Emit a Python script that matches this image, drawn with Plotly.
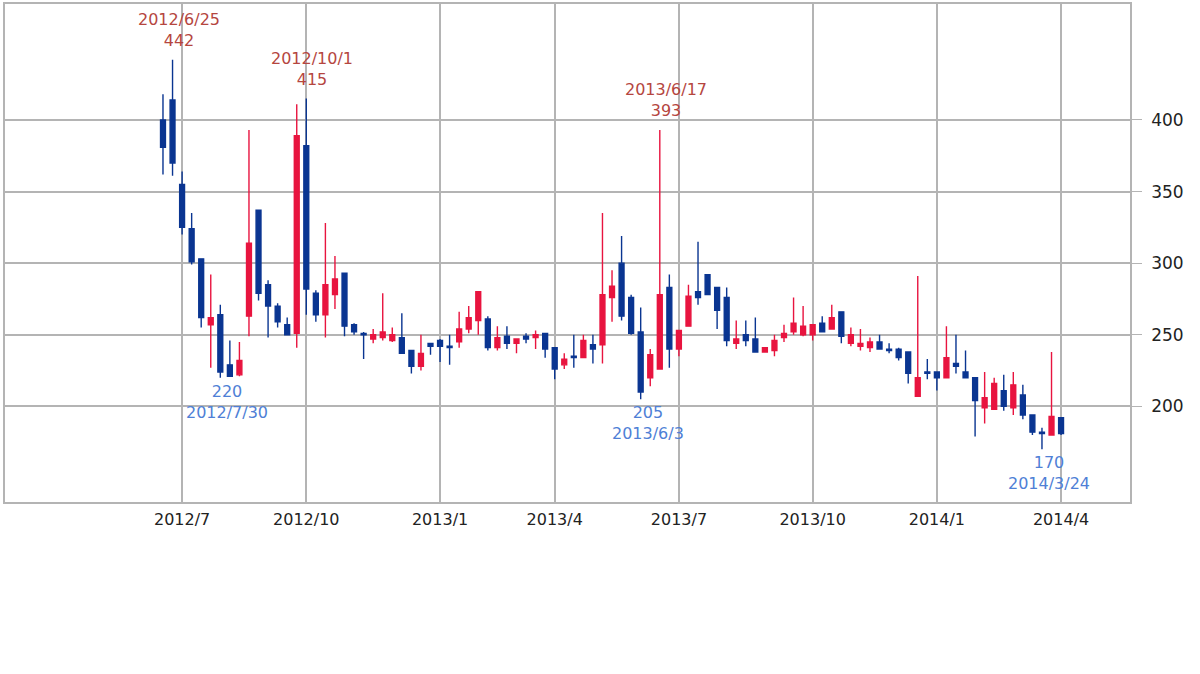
import pandas as pd
import plotly.graph_objects as go

# Weekly candles (week starting Monday)
weeks = pd.date_range("2012-06-18", periods=95, freq="7D")

opens = [400, 414, 355, 324, 303, 257, 264, 229, 222, 263,
         337, 285, 270, 257, 251, 382, 279, 264, 278, 293,
         257, 251, 247, 248, 246, 248, 239, 228, 244, 246,
         242, 245, 254, 260, 261, 241, 249, 244, 249, 248,
         251, 241, 229, 235, 234, 243, 243, 276, 300, 276,
         252, 220, 226, 283, 240, 256, 280, 292, 283, 276,
         244, 250, 247, 238, 239, 248, 252, 250, 250, 258,
         254, 266, 244, 242, 241, 245, 240, 240, 238, 207,
         224, 224, 220, 230, 224, 220, 199, 198, 211, 199,
         208, 194, 182, 180, 192]
highs = [418, 442, 364, 335, 303, 292, 271, 246, 245, 393,
         337, 288, 272, 262, 411, 415, 281, 328, 305, 293,
         258, 252, 254, 279, 255, 265, 239, 250, 244, 247,
         250, 266, 270, 280, 263, 256, 256, 247, 251, 253,
         251, 241, 237, 250, 250, 250, 335, 295, 319, 278,
         269, 240, 393, 292, 253, 285, 315, 292, 283, 283,
         260, 260, 262, 241, 250, 257, 276, 270, 257, 263,
         271, 266, 255, 254, 248, 250, 244, 241, 238, 291,
         233, 224, 256, 250, 239, 220, 224, 220, 222, 224,
         215, 194, 185, 238, 192]
lows = [362, 361, 320, 299, 255, 227, 220, 221, 221, 249,
        274, 248, 255, 250, 241, 264, 259, 248, 268, 249,
        250, 233, 244, 246, 245, 237, 223, 225, 236, 231,
        229, 241, 251, 250, 239, 239, 240, 237, 244, 240,
        234, 219, 226, 227, 234, 230, 230, 259, 260, 250,
        205, 214, 226, 227, 235, 256, 271, 278, 254, 242,
        240, 242, 238, 238, 235, 245, 250, 249, 246, 252,
        254, 244, 242, 239, 238, 240, 237, 232, 216, 207,
        219, 211, 220, 223, 220, 179, 188, 198, 197, 194,
        191, 180, 170, 180, 180]
closes = [381, 370, 325, 301, 262, 262, 224, 221, 232, 314,
          279, 270, 259, 250, 389, 282, 264, 285, 289, 256,
          252, 250, 250, 252, 250, 237, 228, 237, 242, 242,
          241, 254, 262, 280, 241, 248, 244, 247, 247, 250,
          240, 226, 233, 234, 246, 240, 278, 284, 263, 251,
          210, 236, 278, 240, 253, 277, 276, 278, 267, 246,
          247, 246, 238, 241, 246, 251, 258, 256, 257, 252,
          262, 249, 250, 244, 245, 240, 239, 234, 223, 220,
          223, 220, 234, 228, 220, 204, 206, 216, 200, 215,
          194, 182, 181, 193, 181]

tick_dates = ["2012-07-02", "2012-10-01", "2013-01-07", "2013-04-01",
              "2013-07-01", "2013-10-07", "2014-01-06", "2014-04-07"]
tick_labels = ["2012/7", "2012/10", "2013/1", "2013/4",
               "2013/7", "2013/10", "2014/1", "2014/4"]
y_ticks = [200, 250, 300, 350, 400]

# highlighted extremes: (week index, label date)
high_marks = [(1, "2012/6/25"), (15, "2012/10/1"), (52, "2013/6/17")]
low_marks = [(6, "2012/7/30"), (50, "2013/6/3"), (92, "2014/3/24")]

RED = "#e8143f"
BLUE = "#0a3591"
GRID = "#b4b4b4"

fig = go.Figure()
fig.add_trace(go.Candlestick(
    x=weeks, open=opens, high=highs, low=lows, close=closes,
    increasing=dict(line=dict(color=RED, width=1.4), fillcolor=RED),
    decreasing=dict(line=dict(color=BLUE, width=1.4), fillcolor=BLUE),
    whiskerwidth=0, showlegend=False, hoverinfo="skip",
))

for i, lbl in high_marks:
    fig.add_annotation(x=weeks[i], y=highs[i], text=f"{lbl}<br>{highs[i]}",
                       showarrow=False, yanchor="bottom", yshift=8, xshift=6,
                       font=dict(family="DejaVu Sans", size=16, color="#b5463f"))
for i, lbl in low_marks:
    fig.add_annotation(x=weeks[i], y=lows[i], text=f"{lows[i]}<br>{lbl}",
                       showarrow=False, yanchor="top", yshift=-2, xshift=7,
                       font=dict(family="DejaVu Sans", size=16, color="#4f7fd6"))

fig.update_layout(
    width=1200, height=674,
    margin=dict(l=5, r=70, t=2, b=172),
    paper_bgcolor="white", plot_bgcolor="white",
    boxgap=0.27,
    font=dict(family="DejaVu Sans", size=15, color="#222222"),
    xaxis=dict(
        type="date",
        range=["2012-02-23 06:00", "2014-05-27 12:00"],
        tickvals=tick_dates, ticktext=tick_labels,
        showgrid=True, gridcolor=GRID, gridwidth=1.5,
        showline=True, linecolor=GRID, linewidth=1.5, mirror=True,
        ticks="", ticklabelstandoff=2,
        tickfont=dict(family="DejaVu Sans", size=16, color="#222222"),
        rangeslider=dict(visible=False), zeroline=False,
    ),
    yaxis=dict(
        side="right", range=[133.2, 481],
        tickvals=y_ticks,
        showgrid=True, gridcolor=GRID, gridwidth=1.5,
        showline=True, linecolor=GRID, linewidth=1.5, mirror=True,
        ticks="outside", ticklen=10, tickcolor=GRID,
        ticklabelstandoff=6,
        tickfont=dict(family="DejaVu Sans", size=17, color="#222222"),
        zeroline=False,
    ),
)

fig.write_html("out.html")
